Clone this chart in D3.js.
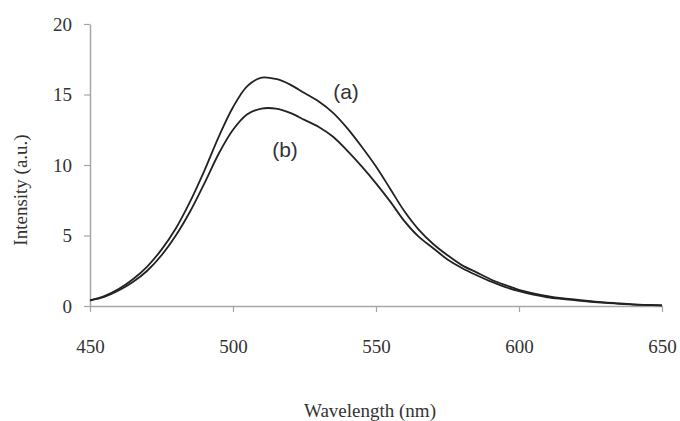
<!DOCTYPE html>
<html>
<head>
<meta charset="utf-8">
<script src="https://cdn.jsdelivr.net/npm/d3@7"></script>
<style>
  body { margin: 0; background: #fff; }
  svg { display: block; }
</style>
</head>
<body>
<svg id="chart" width="680" height="421"></svg>
<script>
// wavelength samples (nm)
const wavelengths = [450, 455, 460, 465, 470, 475, 480, 485, 490, 495, 500, 505, 510, 515, 520, 525, 530, 535, 540, 545, 550,
  555, 560, 565, 570, 575, 580, 585, 590, 595, 600, 605, 610, 615, 620, 625, 630, 635, 640, 645, 650];
// intensity, curve (a)
const seriesA = [0.4, 0.7, 1.2, 1.9, 2.8, 4.0, 5.5, 7.4, 9.6, 12.0, 14.1, 15.6, 16.2, 16.1, 15.7, 15.1, 14.5, 13.7, 12.6, 11.3, 9.9,
  8.3, 6.7, 5.4, 4.4, 3.6, 2.9, 2.4, 1.9, 1.5, 1.15, 0.9, 0.7, 0.55, 0.45, 0.35, 0.25, 0.18, 0.12, 0.08, 0.05];
// intensity, curve (b)
const seriesB = [0.4, 0.65, 1.1, 1.7, 2.5, 3.6, 5.0, 6.7, 8.7, 10.8, 12.5, 13.6, 14.0, 14.0, 13.7, 13.2, 12.7, 12.0, 11.0, 9.9, 8.7,
  7.4, 6.0, 4.9, 4.1, 3.3, 2.7, 2.2, 1.75, 1.35, 1.05, 0.8, 0.62, 0.5, 0.4, 0.3, 0.22, 0.16, 0.1, 0.07, 0.04];
const xTicks = [450, 500, 550, 600, 650];
const yTicks = [0, 5, 10, 15, 20];

const svg = d3.select("#chart");
const margin = { top: 24, right: 18, bottom: 115, left: 90 };
const width = 680 - margin.left - margin.right;
const height = 421 - margin.top - margin.bottom;

const x = d3.scaleLinear().domain([450, 650]).range([margin.left, margin.left + width]);
const y = d3.scaleLinear().domain([0, 20]).range([margin.top + height, margin.top]);

const axisColor = "#a6a6a6";
const fontFamily = "'Liberation Serif', 'Times New Roman', serif";

// x axis
const gx = svg.append("g")
  .attr("transform", `translate(0,${y(0)})`)
  .call(d3.axisBottom(x).tickValues(xTicks).tickSize(6).tickPadding(28).tickSizeOuter(0));
// y axis
const gy = svg.append("g")
  .attr("transform", `translate(${x(450)},0)`)
  .call(d3.axisLeft(y).tickValues(yTicks).tickSize(6).tickPadding(12).tickSizeOuter(0));

[gx, gy].forEach(g => {
  g.select(".domain").attr("stroke", axisColor).attr("stroke-width", 1.5);
  g.selectAll(".tick line").attr("stroke", axisColor).attr("stroke-width", 1.2);
  g.selectAll(".tick text")
    .attr("fill", "#333")
    .attr("font-family", fontFamily)
    .attr("font-size", 19);
});

// curves
const line = d3.line()
  .x((d, i) => x(wavelengths[i]))
  .y(d => y(d))
  .curve(d3.curveCatmullRom);

[seriesA, seriesB].forEach(s => {
  svg.append("path")
    .datum(s)
    .attr("fill", "none")
    .attr("stroke", "#222")
    .attr("stroke-width", 1.8)
    .attr("d", line);
});

// curve labels
svg.append("text")
  .attr("x", 346).attr("y", 99)
  .attr("text-anchor", "middle")
  .attr("font-family", "'Liberation Sans', Arial, sans-serif")
  .attr("font-size", 21)
  .attr("fill", "#333")
  .text("(a)");
svg.append("text")
  .attr("x", 285).attr("y", 157)
  .attr("text-anchor", "middle")
  .attr("font-family", "'Liberation Sans', Arial, sans-serif")
  .attr("font-size", 21)
  .attr("fill", "#333")
  .text("(b)");

// axis titles
svg.append("text")
  .attr("x", 370).attr("y", 417)
  .attr("text-anchor", "middle")
  .attr("font-family", fontFamily)
  .attr("font-size", 19)
  .attr("fill", "#333")
  .text("Wavelength (nm)");

svg.append("text")
  .attr("transform", `translate(27,190) rotate(-90)`)
  .attr("text-anchor", "middle")
  .attr("font-family", fontFamily)
  .attr("font-size", 19)
  .attr("fill", "#333")
  .text("Intensity (a.u.)");
</script>
</body>
</html>
